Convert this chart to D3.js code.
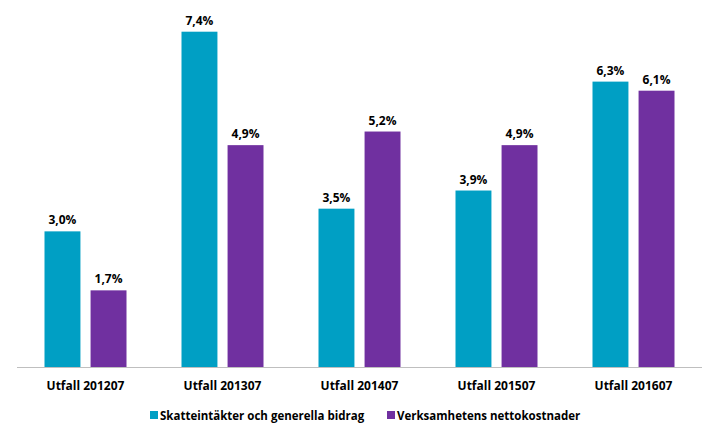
<!DOCTYPE html>
<html lang="sv">
<head>
<meta charset="UTF-8">
<title>Utfall</title>
<style>
  body { margin: 0; background: #fff; font-family: "Open Sans", "Liberation Sans", sans-serif; }
  .val, .cat { font-weight: bold; font-size: 12px; fill: #000; }
  .leg { font-weight: bold; font-size: 11.5px; fill: #000; }
</style>
</head>
<body>
<script src="https://d3js.org/d3.v7.min.js"></script>
<script>
var categories = ["Utfall 201207", "Utfall 201307", "Utfall 201407", "Utfall 201507", "Utfall 201607"];
var seriesNames = ["Skatteintäkter och generella bidrag", "Verksamhetens nettokostnader"];
var skatt = [3.0, 7.4, 3.5, 3.9, 6.3];
var kostnad = [1.7, 4.9, 5.2, 4.9, 6.1];
var colors = ["#009fc4", "#7030a0"];

var width = 704, height = 427,
    baseY = 367.5;

var svg = d3.select("body").append("svg")
    .attr("width", width)
    .attr("height", height);

var x = d3.scaleBand().domain(categories).range([17, 702]);
var x1 = d3.scaleBand().domain([0, 1]).range([0, 82]).paddingInner(0.22);
var y = d3.scaleLinear().domain([0, 7.4]).range([baseY, 31.7]);

var fmt = function(v) { return v.toFixed(1).replace(".", ",") + "%"; };

var rows = categories.map(function(c, i) { return {cat: c, vals: [skatt[i], kostnad[i]]}; });

var g = svg.selectAll("g.grp").data(rows).enter().append("g")
    .attr("class", "grp")
    .attr("transform", function(d) { return "translate(" + (x(d.cat) + x.bandwidth() / 2 - 41) + ",0)"; });

g.selectAll("rect").data(function(d) { return d.vals; }).enter().append("rect")
    .attr("x", function(d, i) { return x1(i); })
    .attr("width", x1.bandwidth())
    .attr("y", function(d) { return y(d); })
    .attr("height", function(d) { return baseY - y(d); })
    .attr("fill", function(d, i) { return colors[i]; });

g.selectAll("text.val").data(function(d) { return d.vals; }).enter().append("text")
    .attr("class", "val")
    .attr("text-anchor", "middle")
    .attr("x", function(d, i) { return x1(i) + x1.bandwidth() / 2; })
    .attr("y", function(d) { return y(d) - 7; })
    .text(fmt);

// baseline
svg.append("line")
    .attr("x1", 17).attr("x2", 702)
    .attr("y1", baseY).attr("y2", baseY)
    .attr("stroke", "#bfbfbf").attr("stroke-width", 1.2);

svg.selectAll("text.cat").data(categories).enter().append("text")
    .attr("class", "cat")
    .attr("text-anchor", "middle")
    .attr("x", function(d) { return x(d) + x.bandwidth() / 2; })
    .attr("y", 390)
    .text(function(d) { return d; });

// legend
var legX = [150, 387];
var leg = svg.selectAll("g.leg").data(seriesNames).enter().append("g")
    .attr("transform", function(d, i) { return "translate(" + legX[i] + ",411)"; });
leg.append("rect").attr("width", 8).attr("height", 8)
    .attr("fill", function(d, i) { return colors[i]; });
leg.append("text").attr("class", "leg")
    .attr("x", 10).attr("y", 9)
    .text(function(d) { return d; });
</script>
</body>
</html>
